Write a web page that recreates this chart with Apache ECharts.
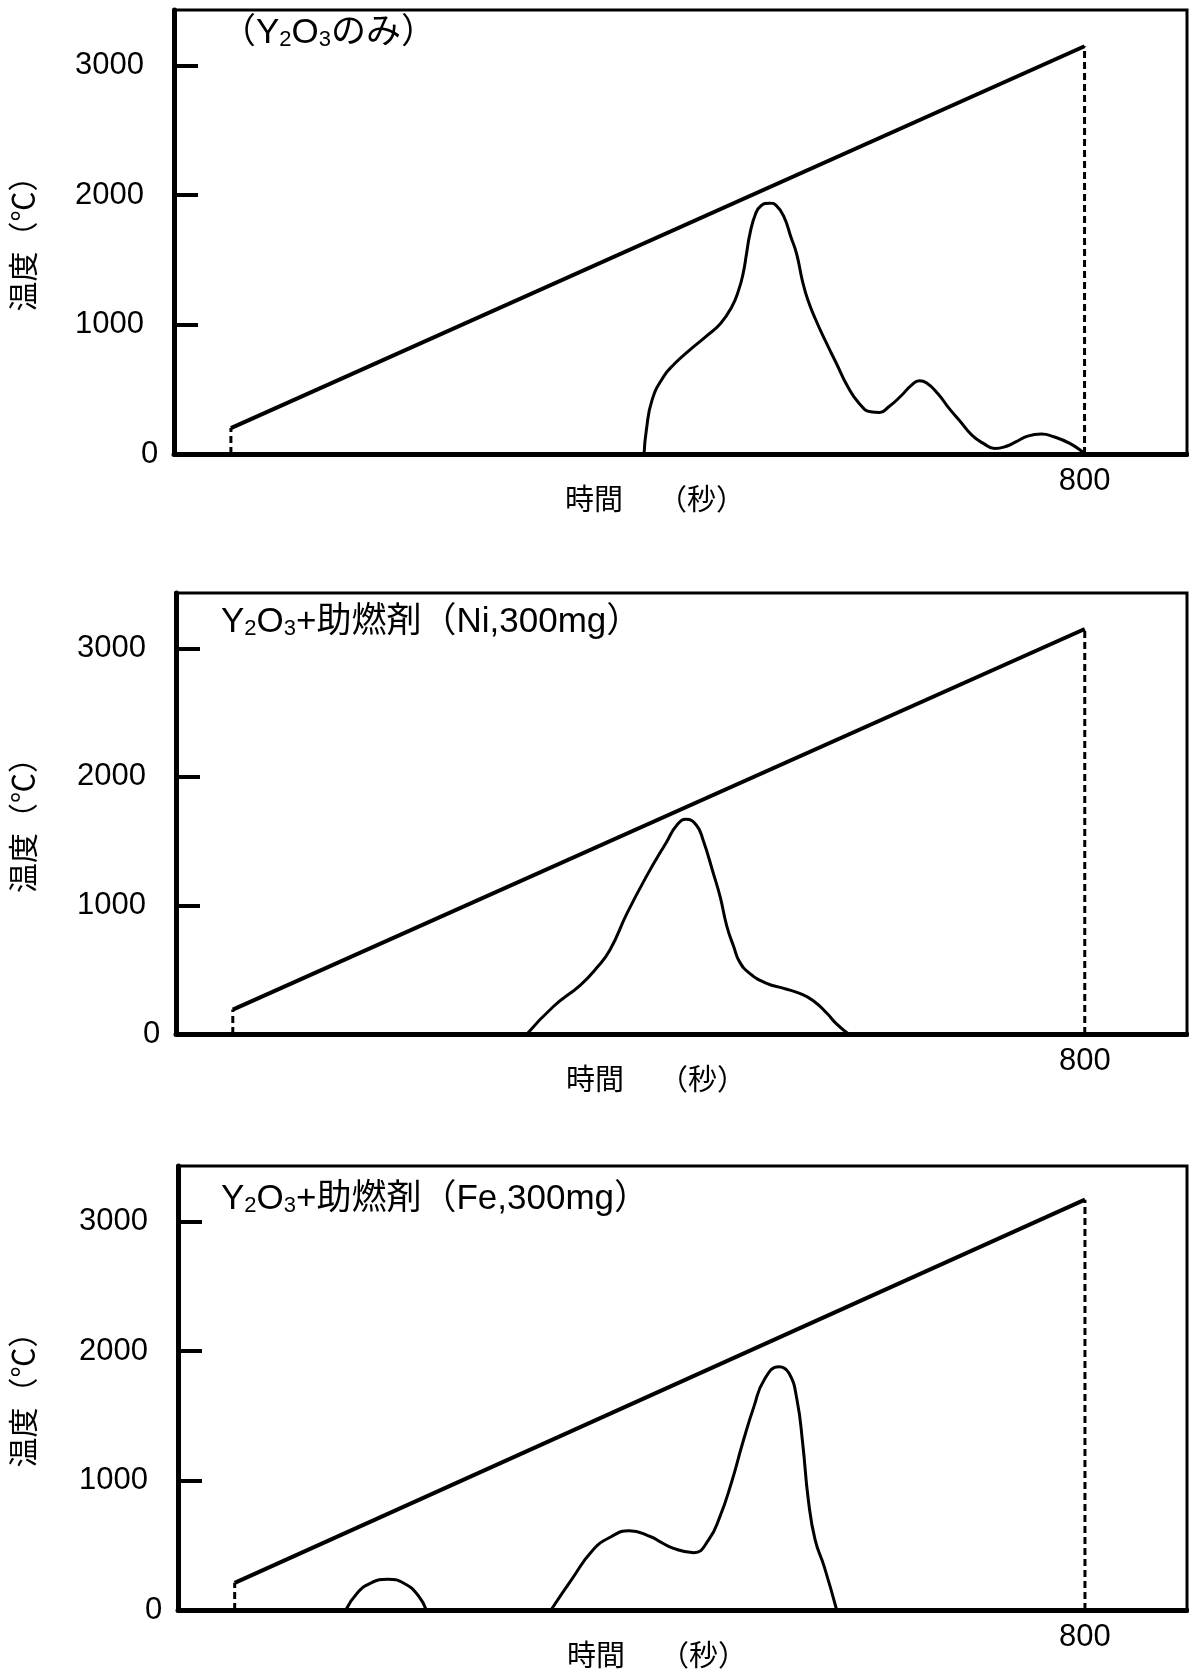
<!DOCTYPE html>
<html><head><meta charset="utf-8">
<script src="https://cdn.jsdelivr.net/npm/echarts@6/dist/echarts.min.js"></script>
<style>html,body{margin:0;padding:0;background:#fff}#c{width:1189px;height:1677px}</style>
</head><body><div id="c"></div>
<script>
// ---- data ----
const panelTitles = [
  '{m|（Y}{s|2}{m|O}{s|3}{m|のみ）}',
  '{m|Y}{s|2}{m|O}{s|3}{m|+助燃剤（Ni,300mg）}',
  '{m|Y}{s|2}{m|O}{s|3}{m|+助燃剤（Fe,300mg）}'
];
const yTicks = [0, 1000, 2000, 3000];
const xTickLabels = [800];
const xName = '時間';
const xUnit = '（秒）';
const yName = '温度（℃）';
const rampTime = [50, 800];
const rampTemp1 = [200, 3150];
const rampTemp2 = [190, 3150];
const rampTemp3 = [210, 3170];
const y2o3Curve = [[413,0],[415,185],[420,416],[430,596],[440,699],[453,802],[467,905],[480,1007],[490,1136],[496,1264],[500,1393],[503,1547],[506,1701],[511,1856],[516,1920],[523,1938],[529,1920],[536,1830],[542,1676],[547,1547],[552,1342],[557,1187],[564,1033],[572,879],[582,699],[592,519],[602,391],[612,326],[620,321],[628,365],[638,442],[648,532],[655,565],[661,550],[671,468],[681,352],[691,249],[701,146],[711,82],[721,43],[730,56],[740,95],[750,138],[762,154],[773,133],[787,82],[798,18],[800,0]];
const niCurve = [[309,0],[332,212],[356,381],[370,511],[382,653],[397,938],[414,1224],[432,1496],[441,1626],[449,1670],[458,1626],[464,1509],[473,1250],[479,1068],[485,835],[491,679],[496,563],[505,472],[520,394],[535,355],[549,316],[561,259],[573,161],[581,83],[592,0]];
const feCurve1 = [[148,0],[158,130],[170,208],[185,238],[200,203],[212,110],[219,0]];
const feCurve2 = [[329,0],[347,232],[366,464],[382,566],[398,613],[417,566],[425,528],[437,476],[455,443],[468,541],[478,721],[488,979],[498,1288],[508,1571],[517,1777],[530,1880],[539,1829],[546,1622],[551,1288],[556,850],[562,541],[570,335],[581,0]];

// ---- layout ----
const FONT = '"Liberation Sans", Arial, "Noto Sans CJK JP", sans-serif';
const grids = [
  {left: 174, top: 10, width: 1013, height: 444},
  {left: 176, top: 593, width: 1011, height: 441},
  {left: 178, top: 1166, width: 1009, height: 444}
];
const titleTops = [13, 602, 1179];
const panels = [
  {ramp: rampTemp1, curves: [y2o3Curve]},
  {ramp: rampTemp2, curves: [niCurve]},
  {ramp: rampTemp3, curves: [feCurve1, feCurve2]}
];

const txt = {fontFamily: FONT, color: '#000', fontWeight: 'normal'};
const option = {
  backgroundColor: '#fff',
  animation: false,
  title: panelTitles.map((t, i) => ({
    text: t, left: 221, top: titleTops[i], padding: 0,
    textStyle: Object.assign({}, txt, {
      rich: {
        m: Object.assign({fontSize: 35, lineHeight: 38, verticalAlign: 'bottom'}, txt),
        s: Object.assign({fontSize: 22, lineHeight: 38, verticalAlign: 'bottom'}, txt)
      }
    })
  })),
  grid: grids.map(g => Object.assign({show: true, borderColor: '#000', borderWidth: 3, backgroundColor: 'transparent', containLabel: false, outerBoundsMode: 'none'}, g)),
  xAxis: grids.map((g, i) => ({
    type: 'value', gridIndex: i, min: 0, max: 890,
    splitLine: {show: false},
    axisLine: {show: true, lineStyle: {color: '#000', width: 5}},
    axisTick: {show: false},
    axisLabel: Object.assign({customValues: xTickLabels, fontSize: 31, margin: 12, formatter: v => String(v)}, txt),
    name: '{a|' + xName + '}{b|' + xUnit + '}',
    nameLocation: 'middle', nameGap: 33, nameMoveOverlap: false,
    nameTextStyle: {
      padding: [0, 51, 0, 0],
      rich: {
        a: Object.assign({fontSize: 29}, txt),
        b: Object.assign({fontSize: 29, padding: [0, 0, 0, 35]}, txt)
      }
    }
  })),
  yAxis: grids.map((g, i) => ({
    type: 'value', gridIndex: i, min: 0, max: 3430,
    splitLine: {show: false},
    axisLine: {show: true, lineStyle: {color: '#000', width: 5}},
    axisTick: {show: true, inside: true, length: 24, customValues: yTicks, lineStyle: {color: '#000', width: 4}},
    axisLabel: Object.assign({
      customValues: yTicks, fontSize: 31, margin: 30,
      formatter: v => v === 0 ? '{z|0}' : String(v),
      rich: {z: Object.assign({fontSize: 31, width: 3, align: 'left'}, txt)}
    }, txt),
    name: yName, nameLocation: 'middle', nameGap: g.left - 41, nameMoveOverlap: false,
    nameTextStyle: Object.assign({fontSize: 30, padding: [0, 9, 0, 0]}, txt)
  })),
  series: []
};

panels.forEach((p, i) => {
  const base = {type: 'line', xAxisIndex: i, yAxisIndex: i, symbol: 'none', silent: true};
  option.series.push(Object.assign({}, base, {
    data: rampTime.map((t, k) => [t, p.ramp[k]]),
    lineStyle: {color: '#000', width: 4}, z: 3
  }));
  rampTime.forEach((t, k) => {
    option.series.push(Object.assign({}, base, {
      data: [[t, 0], [t, p.ramp[k]]],
      lineStyle: {color: '#000', width: 3, type: [7, 4]}, z: 2
    }));
  });
  p.curves.forEach(c => {
    option.series.push(Object.assign({}, base, {
      data: c, smooth: 0.5,
      lineStyle: {color: '#000', width: 3}, z: 3
    }));
  });
});

const chart = echarts.init(document.getElementById('c'), null, {renderer: 'canvas'});
chart.setOption(option);
</script>
</body></html>
